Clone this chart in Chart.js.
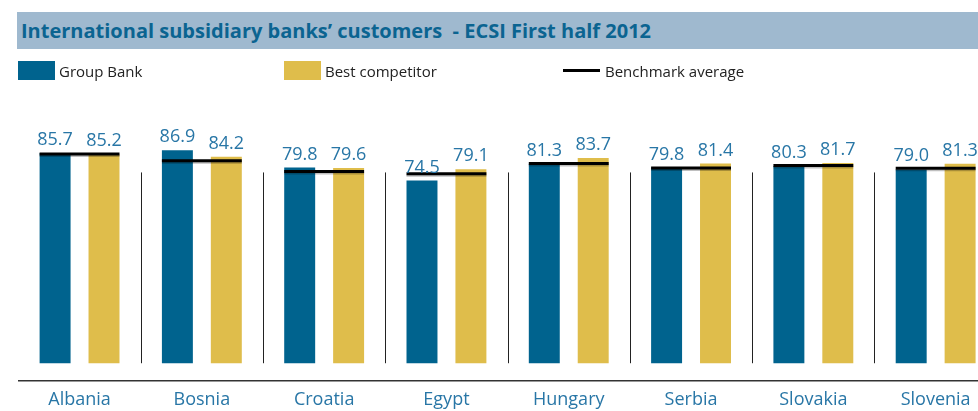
<!DOCTYPE html>
<html>
<head>
<meta charset="utf-8">
<script src="https://cdn.jsdelivr.net/npm/chart.js@4/dist/chart.umd.min.js"></script>
<style>
  body { margin: 0; overflow: hidden; background: #fff; font-family: "Open Sans", sans-serif; }
  #wrap { position: relative; width: 978px; height: 411px; overflow: hidden; }
  #chart { position: absolute; left: 0; top: 0; }
  .titlebar { position: absolute; left: 17px; top: 12px; width: 970px; height: 37px; background: #9fb9cf; }
  .titlebar span { position: absolute; left: 4px; top: 5px; font-weight: bold; font-size: 20px; color: #0b6491; white-space: pre; }
  .leg { position: absolute; top: 59px; font-size: 15px; color: #222; white-space: nowrap; }
  .leg i { display: inline-block; vertical-align: middle; width: 37px; height: 19px; margin-right: 4px; }
  .leg b { display: inline-block; vertical-align: middle; width: 37px; height: 3px; background: #000; margin-right: 5px; }
  .leg span { vertical-align: middle; }
</style>
</head>
<body>
<div id="wrap">
  <canvas id="chart" width="1000" height="411" style="width:1000px;height:411px"></canvas>
  <div class="titlebar"><span>International subsidiary banks’ customers  - ECSI First half 2012</span></div>
  <div class="leg" style="left:18px"><i style="background:#00638e"></i><span>Group Bank</span></div>
  <div class="leg" style="left:284px"><i style="background:#dfbd4b"></i><span>Best competitor</span></div>
  <div class="leg" style="left:563px"><b></b><span>Benchmark average</span></div>
</div>
<script>
// chart data
const countries = ['Albania', 'Bosnia', 'Croatia', 'Egypt', 'Hungary', 'Serbia', 'Slovakia', 'Slovenia'];
const groupBank = [85.7, 86.9, 79.8, 74.5, 81.3, 79.8, 80.3, 79.0];
const bestCompetitor = [85.2, 84.2, 79.6, 79.1, 83.7, 81.4, 81.7, 81.3];
const benchmark = [85.3, 82.6, 78.2, 77.3, 81.4, 79.6, 80.6, 79.5];

const labelColor = '#2876a6';

// benchmark lines, separators and value labels
const extras = {
  id: 'extras',
  afterDatasetsDraw(chart) {
    const ctx = chart.ctx;
    const x = chart.scales.x;
    const y = chart.scales.y;
    const m0 = chart.getDatasetMeta(0).data;
    const m1 = chart.getDatasetMeta(1).data;
    const step = x.getPixelForValue(1) - x.getPixelForValue(0);

    ctx.save();
    // separators between countries
    ctx.strokeStyle = '#222';
    ctx.lineWidth = 1;
    for (let i = 0; i < countries.length; i++) {
      const sx = Math.round(x.getPixelForValue(i) + step / 2) + 0.5;
      ctx.beginPath();
      ctx.moveTo(sx, y.getPixelForValue(77.8));
      ctx.lineTo(sx, y.getPixelForValue(0));
      ctx.stroke();
    }

    // benchmark average
    benchmark.forEach(function(v, i) {
      const left = m0[i].x - m0[i].width / 2;
      const right = m1[i].x + m1[i].width / 2;
      const by = y.getPixelForValue(v);
      ctx.strokeStyle = 'rgba(0,0,0,0.25)';
      ctx.lineWidth = 2;
      ctx.beginPath();
      ctx.moveTo(left, by + 2);
      ctx.lineTo(right, by + 2);
      ctx.stroke();
      ctx.strokeStyle = '#000';
      ctx.lineWidth = 3;
      ctx.beginPath();
      ctx.moveTo(left, by);
      ctx.lineTo(right, by);
      ctx.stroke();
    });

    // value labels
    ctx.fillStyle = labelColor;
    ctx.font = '18px "Open Sans"';
    ctx.textAlign = 'center';
    ctx.textBaseline = 'alphabetic';
    [m0, m1].forEach(function(meta, d) {
      const vals = d === 0 ? groupBank : bestCompetitor;
      meta.forEach(function(bar, i) {
        ctx.fillText(vals[i].toFixed(1), bar.x, bar.y - 8);
      });
    });
    ctx.restore();
  }
};

const ctx = document.getElementById('chart').getContext('2d');
const chart = new Chart(ctx, {
  type: 'bar',
  data: {
    labels: countries,
    datasets: [
      { label: 'Group Bank', data: groupBank, backgroundColor: '#00638e', base: 0 },
      { label: 'Best competitor', data: bestCompetitor, backgroundColor: '#dfbd4b', base: 0 }
    ]
  },
  options: {
    responsive: false,
    animation: false,
    devicePixelRatio: 1,
    categoryPercentage: 0.8,
    barPercentage: 0.633,
    layout: { padding: { top: 118, left: 18.4, right: 3.2, bottom: -9 } },
    plugins: { legend: { display: false }, tooltip: { enabled: false } },
    scales: {
      x: {
        grid: { display: false, drawTicks: false },
        border: { display: true, color: '#333', width: 1.5 },
        ticks: { color: labelColor, font: { family: 'Open Sans', size: 18 }, padding: 9, maxRotation: 0 }
      },
      y: {
        display: false,
        min: -7,
        max: 100
      }
    }
  },
  plugins: [extras]
});
</script>
</body>
</html>
